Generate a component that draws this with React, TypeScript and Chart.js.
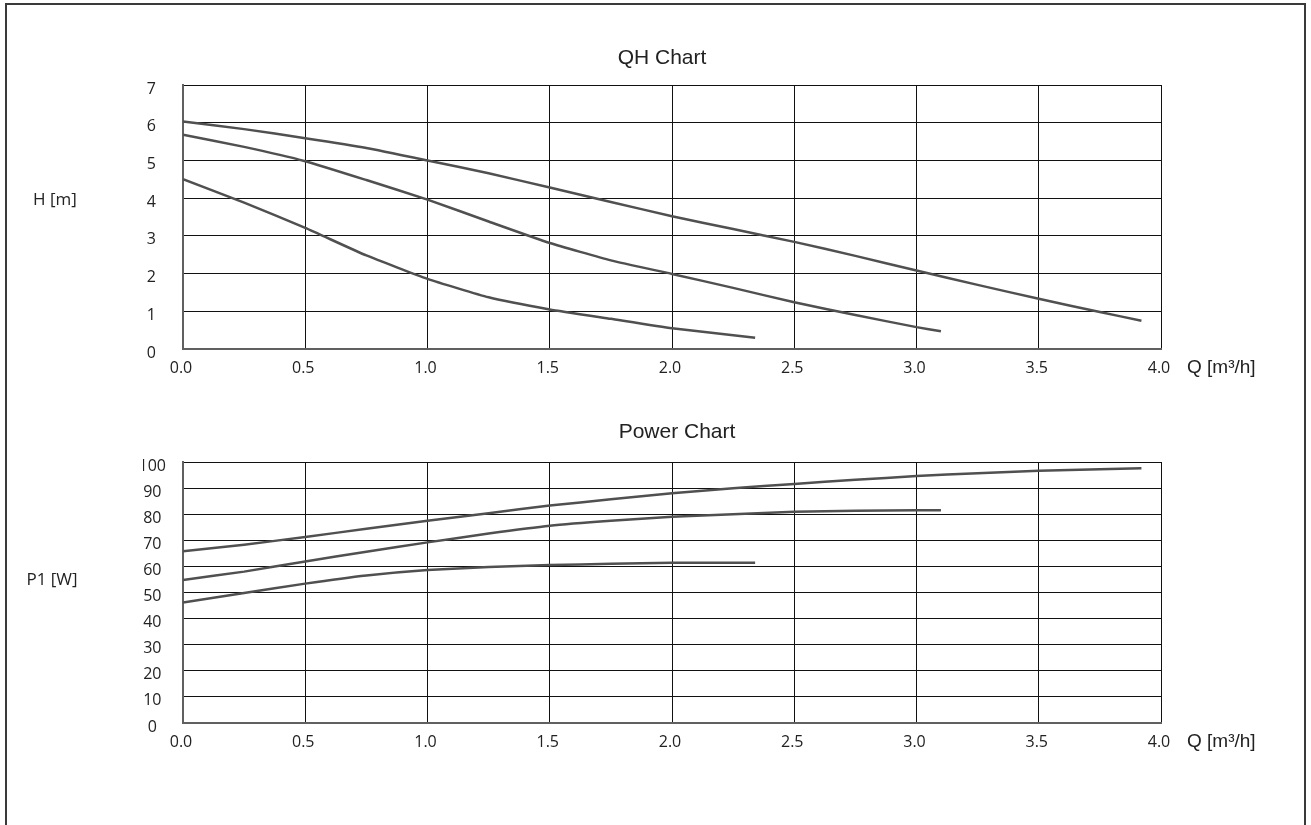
import React, { useEffect, useRef } from "react";
import { Chart, registerables } from "chart.js";

Chart.register(...registerables);

// Flow rate Q [m³/h] sample points for the three speed settings
const flowHigh = [0, 0.25, 0.5, 0.75, 1.0, 1.25, 1.5, 1.75, 2.0, 2.25, 2.5, 2.75, 3.0, 3.25, 3.5, 3.75, 3.92];
const flowMid = [0, 0.25, 0.5, 0.75, 1.0, 1.25, 1.5, 1.75, 2.0, 2.25, 2.5, 2.75, 3.0, 3.1];
const flowLow = [0, 0.25, 0.5, 0.75, 1.0, 1.25, 1.5, 1.75, 2.0, 2.34];

// Head H [m]
const headHigh = [6.03, 5.83, 5.59, 5.33, 5.0, 4.66, 4.28, 3.9, 3.52, 3.18, 2.84, 2.47, 2.08, 1.7, 1.33, 0.98, 0.75];
const headMid = [5.68, 5.36, 4.98, 4.48, 3.96, 3.38, 2.81, 2.35, 1.99, 1.62, 1.24, 0.9, 0.58, 0.47];
const headLow = [4.5, 3.88, 3.21, 2.48, 1.86, 1.37, 1.05, 0.8, 0.55, 0.3];

// Input power P1 [W]
const powerHigh = [65.8, 68.3, 71.3, 74.4, 77.5, 80.4, 83.3, 85.7, 88.0, 89.9, 91.6, 93.2, 94.6, 95.7, 96.6, 97.2, 97.6];
const powerMid = [54.8, 58.0, 61.9, 65.6, 69.2, 72.6, 75.6, 77.5, 79.0, 80.0, 80.9, 81.3, 81.5, 81.5];
const powerLow = [46.2, 49.8, 53.4, 56.5, 58.6, 59.8, 60.5, 61.0, 61.4, 61.4];

// Axis ranges
const flowRange = { min: 0, max: 4, step: 0.5 };
const headRange = { min: 0, max: 7, step: 1 };
const powerRange = { min: 0, max: 100, step: 10 };

const CURVE_COLOR = "#505050";
const GRID_COLOR = "#111111";
const TEXT_COLOR = "#222222";
const TICK_FONT = { family: "'Open Sans'", size: 16 };

const toPoints = (xs: number[], ys: number[]) => xs.map((x, i) => ({ x, y: ys[i] }));

const curve = (xs: number[], ys: number[]) => ({
  data: toPoints(xs, ys),
  borderColor: CURVE_COLOR,
  borderWidth: 2.5,
  pointRadius: 0,
  showLine: true,
  fill: false,
  tension: 0.15,
});

interface LabelSpec {
  title: string;
  titleX: number;
  titleBaseline: number;
  yTitle: string;
  yTitleX: number;
  yTitleBaseline: number;
}

const labelPlugin = (spec: LabelSpec) => ({
  id: "pumpLabels",
  afterDraw(chart: any) {
    const { ctx, chartArea } = chart;
    ctx.save();
    ctx.fillStyle = TEXT_COLOR;
    ctx.textBaseline = "alphabetic";
    ctx.textAlign = "center";
    ctx.font = "21px 'Liberation Sans'";
    ctx.fillText(spec.title, spec.titleX, spec.titleBaseline);
    ctx.font = "17px 'Open Sans'";
    ctx.fillText(spec.yTitle, spec.yTitleX, spec.yTitleBaseline);
    ctx.textAlign = "left";
    ctx.font = "19px 'Liberation Sans'";
    ctx.fillText("Q [m³/h]", chartArea.right + 26, chartArea.bottom + 24);
    ctx.restore();
  },
});

interface PanelSpec extends LabelSpec {
  series: { xs: number[]; ys: number[] }[];
  yRange: { min: number; max: number; step: number };
  yPadding: number;
  padTop: number;
  padBottom: number;
}

function makeConfig(spec: PanelSpec): any {
  return {
    type: "scatter",
    data: { datasets: spec.series.map((s) => curve(s.xs, s.ys)) },
    options: {
      responsive: false,
      animation: false,
      events: [],
      layout: { padding: { left: 143, right: 150, top: spec.padTop, bottom: spec.padBottom } },
      plugins: { legend: { display: false }, tooltip: { enabled: false }, title: { display: false } },
      scales: {
        x: {
          type: "linear",
          min: flowRange.min,
          max: flowRange.max,
          afterFit: (s: any) => {
            s.height = 30;
          },
          ticks: {
            stepSize: flowRange.step,
            callback: (v: number) => v.toFixed(1),
            font: TICK_FONT,
            color: TEXT_COLOR,
            padding: 10,
            labelOffset: -2,
            maxRotation: 0,
            autoSkip: false,
          },
          grid: { color: GRID_COLOR, lineWidth: 1, drawTicks: false },
          border: { color: "#606060", width: 2 },
        },
        y: {
          type: "linear",
          min: spec.yRange.min,
          max: spec.yRange.max,
          afterFit: (s: any) => {
            s.width = 40;
          },
          ticks: {
            stepSize: spec.yRange.step,
            font: TICK_FONT,
            color: TEXT_COLOR,
            padding: spec.yPadding,
            crossAlign: "center",
            labelOffset: 4,
            autoSkip: false,
          },
          grid: { color: GRID_COLOR, lineWidth: 1, drawTicks: false },
          border: { color: "#606060", width: 2 },
        },
      },
    },
    plugins: [labelPlugin(spec)],
  };
}

const qhSpec: PanelSpec = {
  title: "QH Chart",
  titleX: 662,
  titleBaseline: 64,
  yTitle: "H [m]",
  yTitleX: 55,
  yTitleBaseline: 205,
  series: [
    { xs: flowHigh, ys: headHigh },
    { xs: flowMid, ys: headMid },
    { xs: flowLow, ys: headLow },
  ],
  yRange: headRange,
  yPadding: 27,
  padTop: 85,
  padBottom: 21,
};

const powerSpec: PanelSpec = {
  title: "Power Chart",
  titleX: 677,
  titleBaseline: 38,
  yTitle: "P1 [W]",
  yTitleX: 52,
  yTitleBaseline: 185,
  series: [
    { xs: flowHigh, ys: powerHigh },
    { xs: flowMid, ys: powerMid },
    { xs: flowLow, ys: powerLow },
  ],
  yRange: powerRange,
  yPadding: 17,
  padTop: 62,
  padBottom: 72,
};

function Panel({ spec, top, height }: { spec: PanelSpec; top: number; height: number }) {
  const ref = useRef<HTMLCanvasElement | null>(null);
  useEffect(() => {
    if (!ref.current) return;
    const chart = new Chart(ref.current, makeConfig(spec));
    return () => chart.destroy();
  }, [spec]);
  return (
    <canvas
      ref={ref}
      width={1311}
      height={height}
      style={{ position: "absolute", left: 0, top, width: 1311, height, display: "block" }}
    />
  );
}

export default function App() {
  return (
    <div style={{ position: "absolute", left: 0, top: 0, width: 1311, height: 825, overflow: "hidden", background: "#fff" }}>
      <div
        style={{
          position: "absolute",
          left: 5,
          top: 3,
          width: 1301,
          height: 822,
          boxSizing: "border-box",
          border: "2px solid #3a3a3a",
          borderBottom: "none",
        }}
      />
      <Panel spec={qhSpec} top={0} height={400} />
      <Panel spec={powerSpec} top={400} height={425} />
    </div>
  );
}
